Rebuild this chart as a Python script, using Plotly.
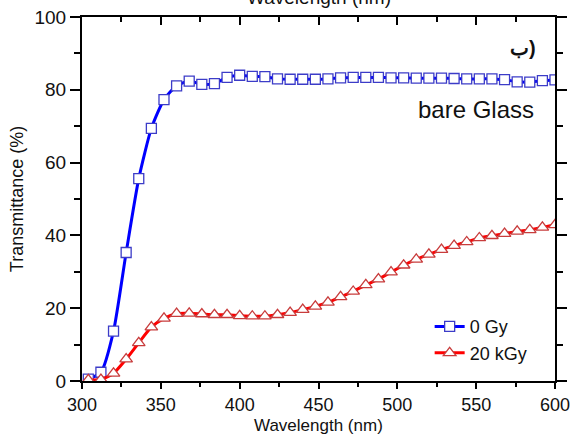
import plotly.graph_objects as go

wavelength = [304, 312, 320, 328, 336, 344, 352, 360, 368, 376, 384, 392, 400, 408, 416, 424, 432, 440, 448,
              456, 464, 472, 480, 488, 496, 504, 512, 520, 528, 536, 544, 552, 560, 568, 576, 584, 592, 600]
t_0gy = [0.5, 2.4, 13.7, 35.3, 55.6, 69.4, 77.3, 81.1, 82.4, 81.5, 81.7, 83.4, 84.0, 83.7, 83.6, 83.0, 82.9,
         82.9, 82.9, 83.0, 83.3, 83.4, 83.4, 83.4, 83.3, 83.3, 83.2, 83.2, 83.2, 83.1, 83.0, 83.0, 83.0, 82.8,
         82.2, 82.1, 82.5, 82.7]
t_20kgy = [0.3, 0.4, 2.1, 6.0, 10.5, 14.8, 17.2, 18.5, 18.6, 18.4, 18.2, 18.2, 17.9, 17.8, 17.8, 18.2, 18.8,
           19.6, 20.5, 21.6, 23.1, 24.6, 26.4, 28.0, 29.9, 31.8, 33.4, 34.8, 36.1, 37.2, 38.2, 39.3, 39.9, 40.5,
           41.1, 41.5, 42.2, 42.9]
x_ticks = [300, 350, 400, 450, 500, 550, 600]
y_ticks = [0, 20, 40, 60, 80, 100]

FONT = "Liberation Sans, Arial, sans-serif"

fig = go.Figure()
fig.add_trace(go.Scatter(
    x=wavelength, y=t_0gy, name="0 Gy", mode="lines+markers",
    line=dict(color="#0000ff", width=3, shape="spline", smoothing=0.6),
    marker=dict(symbol="square", size=10, color="white", line=dict(color="#3c3cc8", width=1.3)),
))
fig.add_trace(go.Scatter(
    x=wavelength, y=t_20kgy, name="20 kGy", mode="lines+markers",
    line=dict(color="#ff0000", width=3, shape="spline", smoothing=0.6),
    marker=dict(symbol="triangle-up", size=11, color="white", line=dict(color="#c83c3c", width=1.3)),
))
# invisible trace to carry the top (inside-tick) axis
fig.add_trace(go.Scatter(x=wavelength, y=t_0gy, xaxis="x2", mode="markers", opacity=0,
                         showlegend=False, hoverinfo="skip"))

fig.update_layout(
    width=580, height=436,
    margin=dict(l=82, r=25, t=17, b=55),
    paper_bgcolor="white", plot_bgcolor="white",
    font=dict(family=FONT, color="#111111", size=19),
    xaxis=dict(
        range=[300, 600], tickvals=x_ticks, ticks="outside", ticklen=6, tickwidth=1.5,
        tickcolor="black", showline=True, linewidth=2, linecolor="black", mirror=True,
        showgrid=False, zeroline=False, automargin=False,
        minor=dict(ticks="outside", ticklen=4, dtick=25, tickwidth=1.5, tickcolor="black", showgrid=False),
        tickfont=dict(size=18),
    ),
    xaxis2=dict(
        range=[300, 600], overlaying="x", side="top", anchor="y", tickvals=x_ticks,
        ticks="inside", ticklen=8, tickwidth=1.5, tickcolor="black", showticklabels=False,
        showline=False, showgrid=False, zeroline=False, automargin=False,
        minor=dict(ticks="inside", ticklen=5, dtick=25, tickwidth=1.5, tickcolor="black", showgrid=False),
    ),
    yaxis=dict(
        range=[0, 100], tickvals=y_ticks, ticks="outside", ticklen=10, tickwidth=1.5,
        tickcolor="black", showline=True, linewidth=2, linecolor="black", mirror="ticks",
        showgrid=False, zeroline=False, automargin=False,
        minor=dict(ticks="outside", ticklen=6, dtick=10, tickwidth=1.5, tickcolor="black", showgrid=False),
        tickfont=dict(size=19),
        title=dict(text="Transmittance (%)", font=dict(size=18), standoff=6),
    ),
    legend=dict(
        x=0.735, y=0.2, xanchor="left", yanchor="top",
        bgcolor="rgba(0,0,0,0)", font=dict(size=18), tracegroupgap=0,
        itemwidth=30,
    ),
    annotations=[
        dict(text="Wavelength (nm)", x=0.5, y=0, xref="paper", yref="paper", xanchor="center",
             yanchor="middle", yshift=-44, showarrow=False, font=dict(size=17, color="#111111")),
        dict(text="bare Glass", x=0.96, y=0.745, xref="paper", yref="paper", xanchor="right",
             yanchor="middle", showarrow=False, font=dict(size=24, color="#111111")),
        dict(text="<b>ب)</b>", x=0.965, y=0.915, xref="paper", yref="paper", xanchor="right",
             yanchor="middle", showarrow=False, font=dict(size=20, color="#111111")),
        dict(text="Wavelength (nm)", x=0.5, y=1, xref="paper", yref="paper", xanchor="center",
             yanchor="middle", yshift=20, showarrow=False, font=dict(size=19, color="#111111")),
    ],
)

fig.write_html("out.html")
